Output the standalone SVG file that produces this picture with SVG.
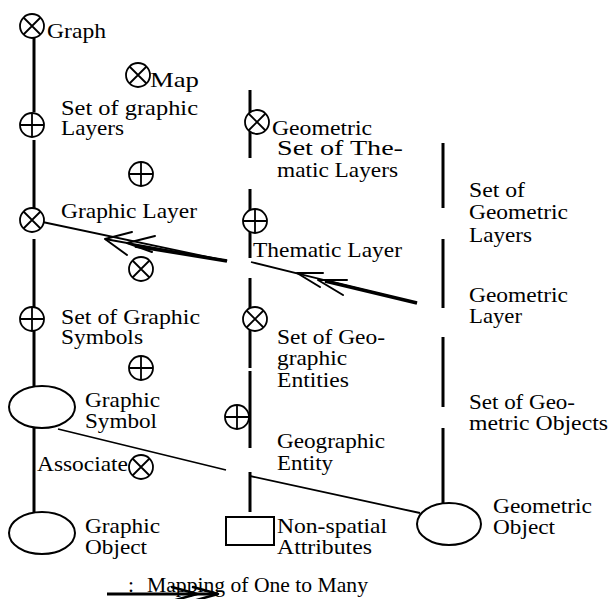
<svg xmlns="http://www.w3.org/2000/svg" width="610" height="599" viewBox="0 0 610 599">
<style>
.t text{font-family:'Liberation Serif','DejaVu Serif',serif;font-size:21.5px;fill:#000}
.v{stroke:#000;stroke-width:3;fill:none}
.c{stroke:#000;stroke-width:1.8;fill:#fff}
.sh{stroke:#000;stroke-width:2;fill:#fff}
.ln{stroke:#000;stroke-width:1.8;fill:none}
.th{stroke:#000;stroke-width:3.5;fill:none}
.ah{stroke:#000;stroke-width:2;fill:none;stroke-linecap:round;stroke-linejoin:round}
</style>
<defs>
<g id="ot"><circle class="c" r="12"/><path class="ln" d="M-8.5,-8.5L8.5,8.5M-8.5,8.5L8.5,-8.5"/></g>
<g id="op"><circle class="c" r="12"/><path class="ln" d="M-12,0H12M0,-12V12"/></g>
</defs>
<rect width="610" height="599" fill="#fff"/>
<g id="connectors">
<path class="v" d="M34,38V112M34,140V208M34,239V386M34,428V512"/>
<path class="v" d="M250,90V158M250,189V258M250,278V368M250,371V448M250,472V512"/>
<path class="v" d="M443,143V208M443,239V308M443,337V407M443,428V512"/>
<path class="ln" d="M33,220L227,261"/>
<path class="ln" d="M227,261L105,239"/>
<path class="th" d="M135,246L227,261"/>
<path class="ah" d="M132,232L105,239L127,255M155,236L127,243L152,252"/>
<path class="ln" d="M251,262L417,303"/>
<path class="th" d="M325,281L417,303"/>
<path class="ah" d="M323,273L297,273L320,287M347,280L318,280L343,295"/>
<path class="ln" d="M58,429L226,470M250,476L420,513"/>
</g>
<g class="t" font-family="Liberation Serif, DejaVu Serif, serif" font-size="21.5">
<g id="n-graph"><use href="#ot" x="32" y="26"/><text x="47" y="38" textLength="59" lengthAdjust="spacingAndGlyphs">Graph</text></g>
<g id="n-map"><use href="#ot" x="138" y="75"/><text x="150" y="87" textLength="49" lengthAdjust="spacingAndGlyphs">Map</text></g>
<g id="n-setgl"><use href="#op" x="32" y="125"/><text x="61" y="115" textLength="137" lengthAdjust="spacingAndGlyphs">Set of graphic</text><text x="61" y="135" textLength="63" lengthAdjust="spacingAndGlyphs">Layers</text></g>
<g id="n-p1"><use href="#op" x="141" y="174"/></g>
<g id="n-gl"><use href="#ot" x="32" y="220"/><text x="61" y="218" textLength="136" lengthAdjust="spacingAndGlyphs">Graphic Layer</text></g>
<g id="n-x1"><use href="#ot" x="141" y="269"/></g>
<g id="n-setgs"><use href="#op" x="32" y="319"/><text x="61" y="324" textLength="139" lengthAdjust="spacingAndGlyphs">Set of Graphic</text><text x="61" y="344" textLength="82" lengthAdjust="spacingAndGlyphs">Symbols</text></g>
<g id="n-p2"><use href="#op" x="141" y="368"/></g>
<g id="n-gs"><ellipse class="sh" cx="42" cy="407" rx="33" ry="21"/><text x="85" y="407" textLength="75" lengthAdjust="spacingAndGlyphs">Graphic</text><text x="85" y="428" textLength="72" lengthAdjust="spacingAndGlyphs">Symbol</text></g>
<g id="n-assoc"><text x="37" y="471" textLength="91" lengthAdjust="spacingAndGlyphs">Associate</text><use href="#ot" x="141" y="467"/></g>
<g id="n-go"><ellipse class="sh" cx="42" cy="533" rx="33" ry="21"/><text x="85" y="533" textLength="75" lengthAdjust="spacingAndGlyphs">Graphic</text><text x="85" y="554" textLength="62" lengthAdjust="spacingAndGlyphs">Object</text></g>
<g id="n-geom"><use href="#ot" x="257" y="122"/><text x="272" y="135" textLength="100" lengthAdjust="spacingAndGlyphs">Geometric</text></g>
<g id="n-settl"><text x="277" y="155" textLength="126" lengthAdjust="spacingAndGlyphs">Set of The-</text><text x="277" y="177" textLength="121" lengthAdjust="spacingAndGlyphs">matic Layers</text></g>
<g id="n-tl"><use href="#op" x="255" y="221"/><text x="253" y="257" textLength="149" lengthAdjust="spacingAndGlyphs">Thematic Layer</text></g>
<g id="n-setge"><use href="#ot" x="255" y="319"/><text x="277" y="344" textLength="108" lengthAdjust="spacingAndGlyphs">Set of Geo-</text><text x="277" y="365" textLength="70" lengthAdjust="spacingAndGlyphs">graphic</text><text x="277" y="387" textLength="72" lengthAdjust="spacingAndGlyphs">Entities</text></g>
<g id="n-ge"><use href="#op" x="237" y="417"/><text x="277" y="448" textLength="108" lengthAdjust="spacingAndGlyphs">Geographic</text><text x="277" y="470" textLength="56" lengthAdjust="spacingAndGlyphs">Entity</text></g>
<g id="n-nsa"><rect class="sh" x="226" y="517" width="48" height="28"/><text x="277" y="533" textLength="110" lengthAdjust="spacingAndGlyphs">Non-spatial</text><text x="277" y="554" textLength="95" lengthAdjust="spacingAndGlyphs">Attributes</text></g>
<g id="n-setgeol"><text x="469" y="197" textLength="56" lengthAdjust="spacingAndGlyphs">Set of</text><text x="469" y="219" textLength="99" lengthAdjust="spacingAndGlyphs">Geometric</text><text x="469" y="242" textLength="63" lengthAdjust="spacingAndGlyphs">Layers</text></g>
<g id="n-geol"><text x="469" y="302" textLength="99" lengthAdjust="spacingAndGlyphs">Geometric</text><text x="469" y="323" textLength="53" lengthAdjust="spacingAndGlyphs">Layer</text></g>
<g id="n-setgeoo"><text x="469" y="409" textLength="106" lengthAdjust="spacingAndGlyphs">Set of Geo-</text><text x="469" y="430" textLength="139" lengthAdjust="spacingAndGlyphs">metric Objects</text></g>
<g id="n-geoo"><ellipse class="sh" cx="449" cy="524" rx="32" ry="21"/><text x="493" y="513" textLength="99" lengthAdjust="spacingAndGlyphs">Geometric</text><text x="493" y="534" textLength="62" lengthAdjust="spacingAndGlyphs">Object</text></g>
<g id="legend">
<path class="th" d="M107,594H218" style="stroke-width:3"/>
<path class="ah" d="M172,587L197,594L172,601M193,587L218,594L193,601" style="stroke-width:2.5"/>
<text x="128" y="592">:</text>
<text x="147" y="592" textLength="221" lengthAdjust="spacingAndGlyphs">Mapping of One to Many</text>
</g>
</g>
</svg>
